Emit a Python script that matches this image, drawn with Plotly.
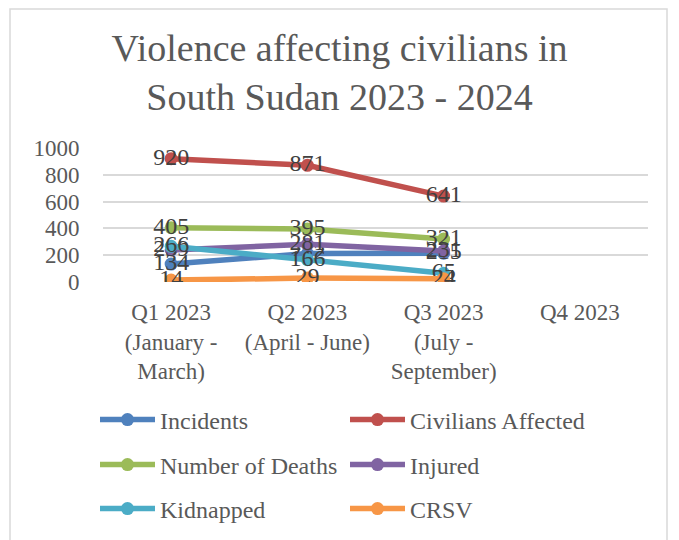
import plotly.graph_objects as go

categories = ["Q1 2023<br>(January -<br>March)", "Q2 2023<br>(April - June)", "Q3 2023<br>(July -<br>September)", "Q4 2023"]
incidents = [134, 212, 215, None]
civilians_affected = [920, 871, 641, None]
deaths = [405, 395, 321, None]
injured = [239, 281, 231, None]
kidnapped = [266, 166, 65, None]
crsv = [14, 29, 24, None]

series = [
    ("Incidents", incidents, "#4F81BD", "legend"),
    ("Civilians Affected", civilians_affected, "#C0504D", "legend"),
    ("Number of Deaths", deaths, "#9BBB59", "legend2"),
    ("Injured", injured, "#8064A2", "legend2"),
    ("Kidnapped", kidnapped, "#4BACC6", "legend3"),
    ("CRSV", crsv, "#F79646", "legend3"),
]

FONT = "Liberation Serif"
fig = go.Figure()
for name, vals, color, lg in series:
    fig.add_trace(go.Scatter(
        x=categories, y=vals, name=name, mode="lines+markers+text",
        line=dict(color=color, width=5.5),
        marker=dict(color=color, size=13),
        text=[("" if v is None else str(v)) for v in vals],
        textposition="middle center",
        textfont=dict(family=FONT, size=24, color="#404040"),
        legend=lg,
    ))

L, R, T, B = 103, 648, 148, 283
W, H = 679, 540
pw, ph = R - L, B - T

def px_x(x):
    return (x - L) / pw

def px_y(y):
    return (B - y) / ph

leg_common = dict(orientation="h", entrywidth=180, entrywidthmode="pixels",
                  font=dict(family=FONT, size=24, color="#595959"),
                  bgcolor="rgba(0,0,0,0)", itemwidth=55,
                  xanchor="left", yanchor="middle", x=px_x(95))

fig.update_layout(
    width=W, height=H,
    margin=dict(l=L, r=W - R, t=T, b=H - B),
    paper_bgcolor="white", plot_bgcolor="white",
    title=dict(text="Violence affecting civilians in<br>South Sudan 2023 - 2024",
               x=0.5, xref="container", xanchor="center",
               y=1 - 61 / H, yref="container", yanchor="top",
               font=dict(family=FONT, size=38, color="#595959")),
    xaxis=dict(range=[-0.5, 3.5], showgrid=False, showline=False, zeroline=False,
               ticks="outside", ticklen=9, tickcolor="rgba(0,0,0,0)",
               tickfont=dict(family=FONT, size=23, color="#595959"),
               fixedrange=True),
    yaxis=dict(range=[0, 1000], dtick=200, showgrid=True, gridcolor="#D9D9D9",
               gridwidth=1.5, zeroline=False, showline=False, ticks="outside",
               ticklen=18, tickcolor="rgba(0,0,0,0)",
               tickfont=dict(family=FONT, size=23, color="#595959")),
    legend=dict(**leg_common, y=px_y(420)),
    legend2=dict(**leg_common, y=px_y(465)),
    legend3=dict(**leg_common, y=px_y(509)),
    showlegend=True,
    shapes=[dict(type="rect", xref="paper", yref="paper",
                 x0=px_x(10), x1=px_x(667), y0=px_y(560), y1=px_y(8),
                 line=dict(color="#D9D9D9", width=1.5), layer="below")],
)

fig.write_html("out.html")
